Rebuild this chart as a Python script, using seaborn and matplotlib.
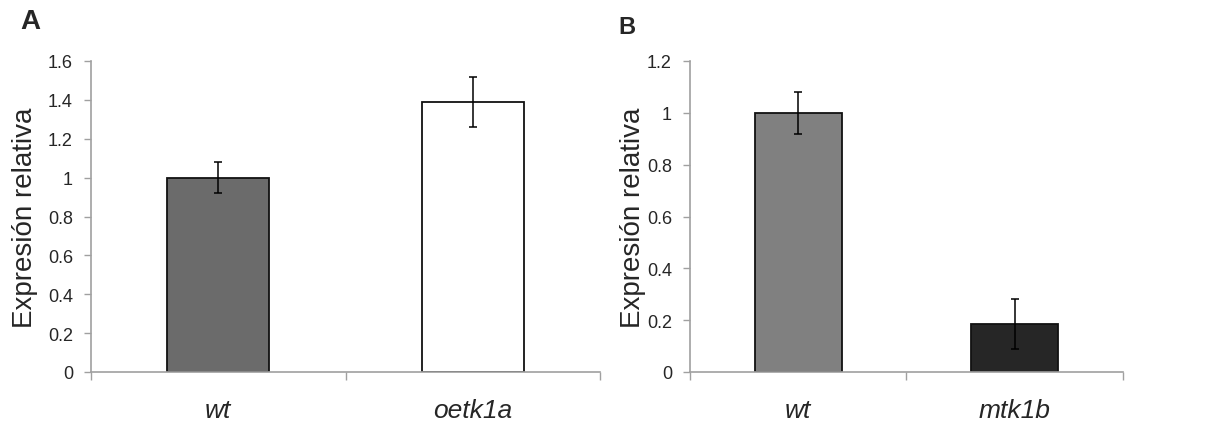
import matplotlib
matplotlib.use("Agg")
import matplotlib.pyplot as plt
import pandas as pd
import seaborn as sns
from matplotlib import font_manager

# panel A
a_groups = ["wt", "oetk1a"]
a_values = [1.0, 1.39]
a_errors = [0.08, 0.13]
a_colors = ["#6b6b6b", "#ffffff"]
a_yticks = [0, 0.2, 0.4, 0.6, 0.8, 1, 1.2, 1.4, 1.6]

# panel B
b_groups = ["wt", "mtk1b"]
b_values = [1.0, 0.185]
b_errors = [0.08, 0.095]
b_colors = ["#808080", "#262626"]
b_yticks = [0, 0.2, 0.4, 0.6, 0.8, 1, 1.2]

ylabel = "Expresión relativa"

installed = {f.name for f in font_manager.fontManager.ttflist}
narrow = "Liberation Sans Narrow" if "Liberation Sans Narrow" in installed else "Liberation Sans"

sns.set_style("white")
plt.rcParams["font.family"] = ["Liberation Sans", "DejaVu Sans"]

fig = plt.figure(figsize=(12.12, 4.27), dpi=100)
ax_a = fig.add_axes([91 / 1212, 54 / 427, 509 / 1212, 311 / 427])
ax_b = fig.add_axes([690 / 1212, 54 / 427, 433 / 1212, 311 / 427])

axis_grey = "#a0a0a0"


def draw(ax, groups, values, errors, colors, yticks, label_x):
    df = pd.DataFrame({"group": groups, "value": values})
    sns.barplot(data=df, x="group", y="value", hue="group", palette=colors,
                width=0.4, errorbar=None, legend=False, ax=ax,
                edgecolor="#111111", linewidth=1.3)
    ax.errorbar(range(len(groups)), values, yerr=errors, fmt="none",
                ecolor="black", elinewidth=1.1, capsize=3.2, capthick=1.1)
    ax.set_xlim(-0.5, len(groups) - 0.5)
    ax.set_ylim(0, yticks[-1])
    ax.set_yticks(yticks)
    ax.set_yticklabels(["%g" % t for t in yticks], family=narrow, fontsize=13)
    # x ticks sit on the category boundaries, labels in the middle
    ax.set_xticks([i - 0.5 for i in range(len(groups) + 1)])
    ax.set_xticklabels([])
    ax.set_xticks(range(len(groups)), minor=True)
    ax.set_xticklabels(groups, minor=True, family=narrow, style="italic", fontsize=19)
    ax.tick_params(axis="x", which="major", direction="out", length=6, width=1,
                   color=axis_grey, bottom=True)
    ax.tick_params(axis="x", which="minor", length=0, pad=19)
    ax.tick_params(axis="y", direction="out", length=5, width=1, color=axis_grey,
                   left=True, pad=8)
    for side in ("top", "right"):
        ax.spines[side].set_visible(False)
    for side in ("left", "bottom"):
        ax.spines[side].set_color(axis_grey)
        ax.spines[side].set_linewidth(1.2)
    ax.set_xlabel("")
    ax.set_ylabel(ylabel, fontsize=20)
    ax.yaxis.set_label_coords(label_x, 0.5)


draw(ax_a, a_groups, a_values, a_errors, a_colors, a_yticks, (38 - 91) / 509)
draw(ax_b, b_groups, b_values, b_errors, b_colors, b_yticks, (646 - 690) / 433)

fig.text(30 / 1212, 1 - 22 / 427, "A", fontsize=20, fontweight="bold", ha="center", va="center")
fig.text(627 / 1212, 1 - 27 / 427, "B", fontsize=17, fontweight="bold", ha="center", va="center")

fig.savefig("out.png", dpi=100)
